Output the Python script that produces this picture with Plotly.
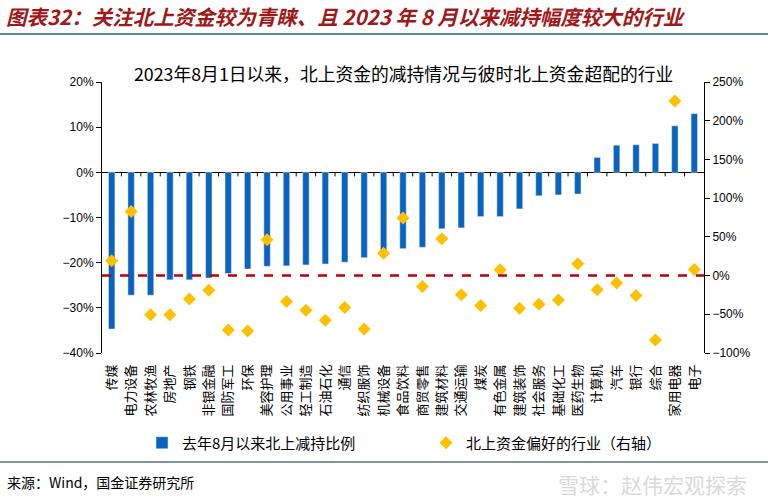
import plotly.graph_objects as go

categories = ["传媒", "电力设备", "农林牧渔", "房地产", "钢铁", "非银金融", "国防军工", "环保",
              "美容护理", "公用事业", "轻工制造", "石油石化", "通信", "纺织服饰", "机械设备",
              "食品饮料", "商贸零售", "建筑材料", "交通运输", "煤炭", "有色金属", "建筑装饰",
              "社会服务", "基础化工", "医药生物", "计算机", "汽车", "银行", "综合", "家用电器", "电子"]
reduction = [-34.7, -27.2, -27.2, -23.8, -23.8, -23.4, -22.4, -21.4, -20.8, -20.7, -20.5,
             -20.3, -19.9, -18.9, -17.8, -16.9, -16.6, -12.5, -12.3, -9.8, -9.8, -8.1,
             -5.2, -5.0, -4.8, 3.3, 6.0, 6.1, 6.4, 10.3, 13.0]
preference = [19.3, 82.8, -50.7, -50.7, -30.4, -18.8, -70.3, -71.6, 46.4, -33.4, -44.7,
              -57.6, -41.2, -68.9, 28.8, 74.2, -14.0, 47.4, -24.8, -38.6, 7.6, -42.1,
              -36.9, -31.7, 15.4, -18.3, -9.7, -25.7, -83.1, 225.4, 8.0]

CJK = "Noto Sans CJK SC"
fig = go.Figure()
fig.add_trace(go.Bar(x=categories, y=reduction, name="去年8月以来北上减持比例",
                     marker_color="#0B63C0", width=0.33, yaxis="y", legend="legend"))
fig.add_trace(go.Scatter(x=categories, y=preference, name="北上资金偏好的行业（右轴）",
                         mode="markers", marker=dict(symbol="diamond", size=10, color="#FFC000"),
                         yaxis="y2", legend="legend2"))

shapes = []
# red dashed reference line at right-axis 0
shapes.append(dict(type="line", xref="paper", x0=0, x1=1, yref="y2", y0=0, y1=0,
                   line=dict(color="#C00000", width=2.5, dash="dash")))
# small category separator ticks on the zero line
for i in range(len(categories) - 1):
    shapes.append(dict(type="line", xref="x", x0=i + 0.5, x1=i + 0.5, yref="y", y0=0, y1=-0.9,
                       line=dict(color="black", width=1)))
# header / footer rules
shapes.append(dict(type="line", xref="paper", yref="paper", x0=-102/602, x1=666/602,
                   y0=1 + 48/271, y1=1 + 48/271, line=dict(color="#5E8893", width=2)))
shapes.append(dict(type="line", xref="paper", yref="paper", x0=-102/602, x1=666/602,
                   y0=-109/271, y1=-109/271, line=dict(color="#7F95A0", width=2)))

annotations = [
    dict(text="<b><i>图表32：关注北上资金较为青睐、且 2023 年 8 月以来减持幅度较大的行业</i></b>",
         xref="paper", yref="paper", x=-98/602, y=1 + 66/271, xanchor="left", yanchor="middle",
         showarrow=False, font=dict(family=CJK, size=20.5, color="#A01818")),
    dict(text="2023年8月1日以来，北上资金的减持情况与彼时北上资金超配的行业",
         xref="paper", yref="paper", x=0.5, y=1 + 9/271, xanchor="center", yanchor="middle",
         showarrow=False, font=dict(family=CJK, size=17.8, color="black")),
    dict(text="来源：Wind，国金证券研究所",
         xref="paper", yref="paper", x=-97/602, y=-129/271, xanchor="left", yanchor="middle",
         showarrow=False, font=dict(family=CJK, size=14, color="black")),
    dict(text="雪球：赵伟宏观探索",
         xref="paper", yref="paper", x=550/602, y=-131/271, xanchor="center", yanchor="middle",
         showarrow=False, font=dict(family=CJK, size=21, color="#DADADA")),
]

legend_common = dict(orientation="h", xanchor="left", y=-90/271, yanchor="middle",
                     font=dict(family=CJK, size=15, color="black"), itemwidth=30,
                     bgcolor="rgba(0,0,0,0)")

fig.update_layout(
    width=768, height=500,
    margin=dict(l=102, r=64, t=82, b=147),
    paper_bgcolor="white", plot_bgcolor="white",
    showlegend=True,
    legend=dict(x=(142 - 102) / 602, **legend_common),
    legend2=dict(x=(426 - 102) / 602, **legend_common),
    xaxis=dict(type="category", tickangle=-90, showline=False, ticks="", showgrid=False,
               tickfont=dict(family=CJK, size=13, color="black"), zeroline=False,
               ticklabelstandoff=8,
               range=[-0.5, len(categories) - 0.5]),
    yaxis=dict(range=[-40, 20], dtick=10, ticksuffix="%", showline=True, linecolor="black",
               linewidth=1, ticks="outside", ticklen=5, tickcolor="black", showgrid=False,
               zeroline=True, zerolinecolor="black", zerolinewidth=1,
               tickfont=dict(family="Arial, Liberation Sans", size=12, color="black")),
    yaxis2=dict(range=[-100, 250], dtick=50, ticksuffix="%", overlaying="y", side="right",
                showline=True, linecolor="black", linewidth=1, ticks="outside", ticklen=5,
                tickcolor="black", showgrid=False, zeroline=False,
                tickfont=dict(family="Arial, Liberation Sans", size=12, color="black")),
    shapes=shapes, annotations=annotations, bargap=0.67,
)

fig.write_html("out.html")
